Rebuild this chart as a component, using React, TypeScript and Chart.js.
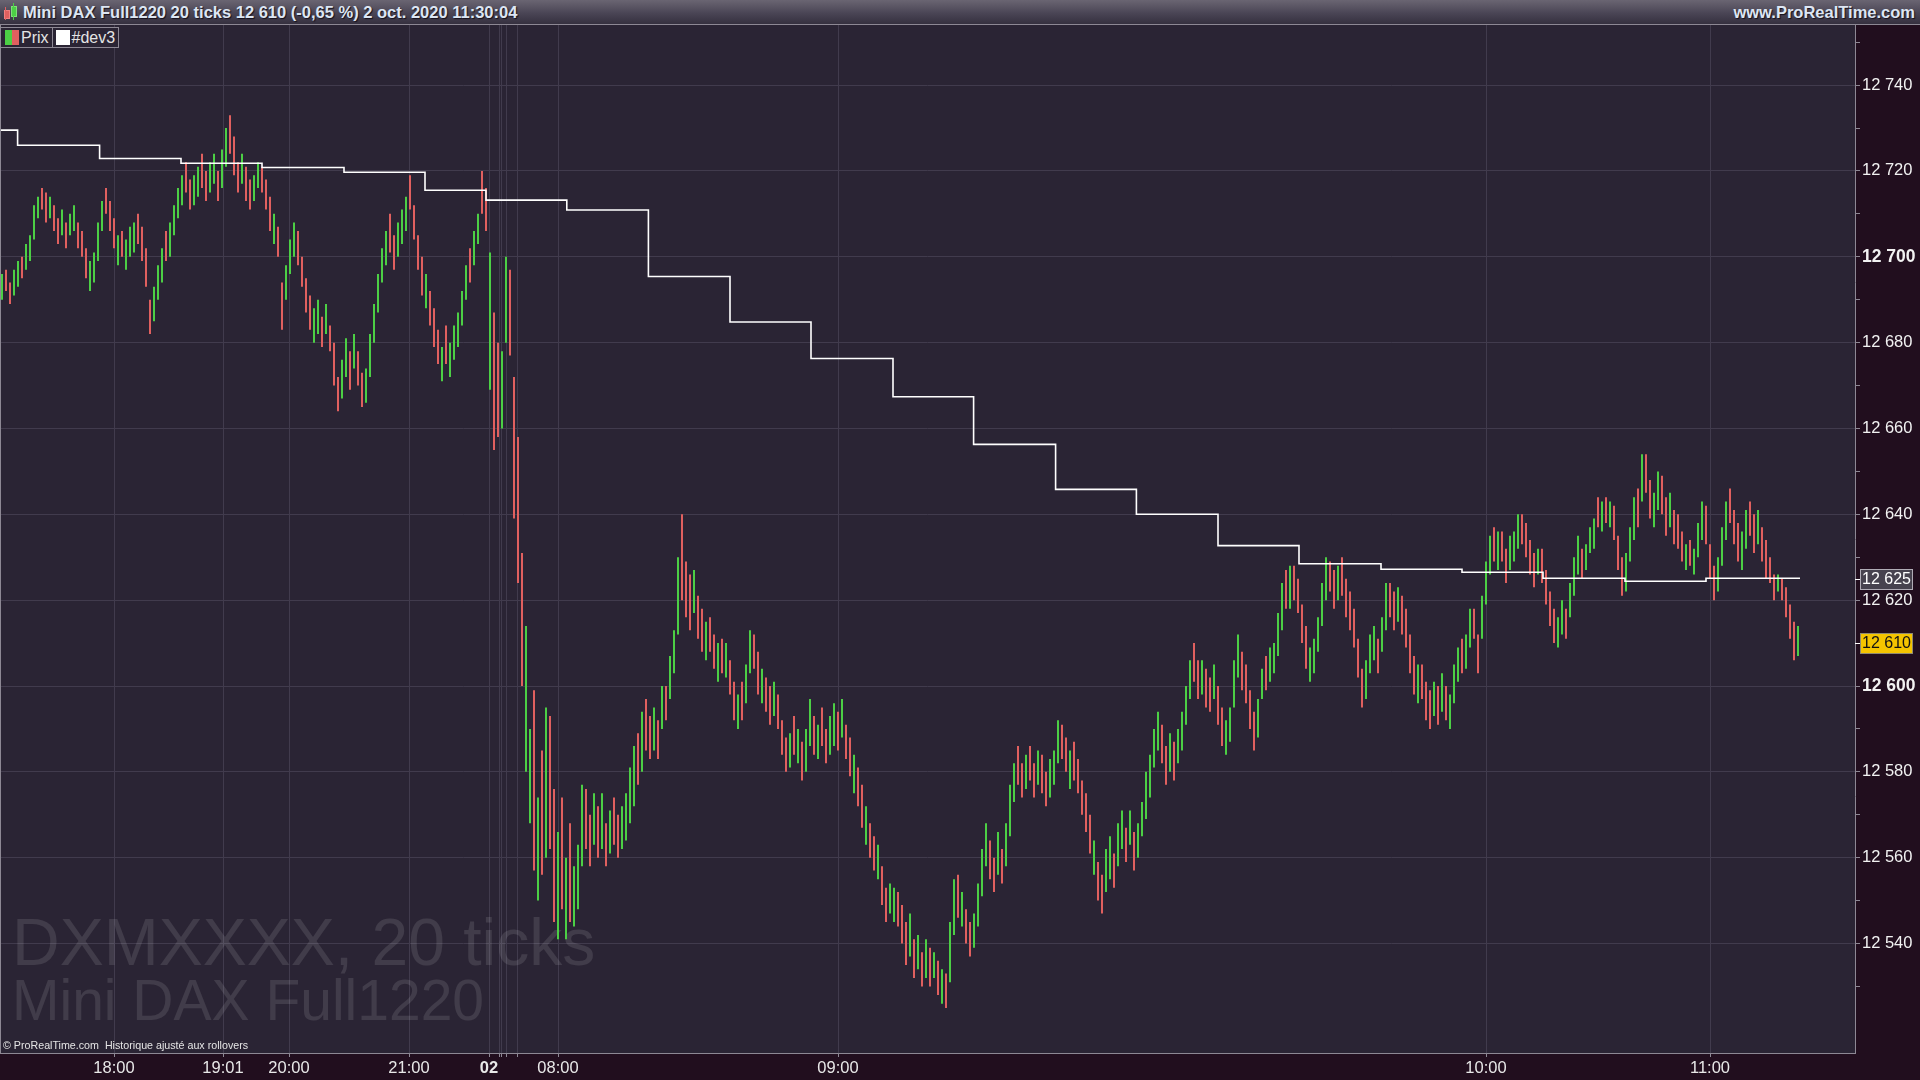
import React, { useEffect, useRef } from 'react';
import { Chart, registerables } from 'chart.js';

Chart.register(...registerables);

// ---------------- data ----------------
const lows: number[] = [
  12690,12692,12689,12691,12693,12695,12697,12699,12704,12709,
  12711,12708,12709,12706,12703,12705,12702,12705,12706,12702,
  12700,12695,12692,12694,12699,12706,12710,12706,12702,12698,
  12700,12697,12700,12701,12703,12699,12693,12682,12685,12690,
  12694,12699,12700,12705,12709,12712,12715,12711,12712,12714,
  12716,12713,12715,12717,12713,12716,12721,12724,12719,12715,
  12717,12713,12711,12713,12716,12715,12711,12706,12703,12700,
  12683,12690,12696,12700,12698,12693,12687,12683,12680,12682,
  12679,12682,12678,12670,12664,12667,12672,12669,12674,12670,
  12665,12666,12672,12680,12687,12694,12698,12701,12697,12700,
  12703,12706,12711,12704,12697,12691,12688,12684,12679,12675,
  12671,12675,12672,12676,12679,12684,12690,12694,12698,12703,
  12710,12706,12669,12655,12658,12660,12680,12677,12639,12624,
  12600,12580,12568,12557,12550,12556,12560,12562,12545,12541,
  12548,12541,12545,12544,12548,12558,12562,12558,12563,12560,
  12562,12558,12561,12563,12560,12562,12564,12568,12572,12577,
  12580,12585,12583,12585,12583,12590,12592,12597,12603,12612,
  12620,12616,12613,12617,12611,12608,12606,12608,12604,12601,
  12603,12602,12598,12592,12590,12592,12596,12603,12604,12598,
  12596,12594,12591,12593,12590,12584,12580,12581,12584,12582,
  12578,12580,12586,12584,12583,12586,12582,12584,12586,12585,
  12588,12583,12579,12575,12572,12567,12563,12560,12557,12555,
  12549,12545,12547,12545,12544,12540,12535,12537,12532,12534,
  12530,12532,12530,12532,12528,12526,12525,12531,12542,12546,
  12544,12540,12537,12539,12544,12551,12558,12555,12552,12556,
  12554,12558,12565,12573,12577,12574,12576,12578,12574,12577,
  12575,12572,12574,12577,12582,12583,12580,12576,12578,12575,
  12570,12566,12561,12556,12550,12547,12552,12555,12553,12558,
  12562,12559,12563,12557,12560,12565,12569,12574,12581,12585,
  12582,12577,12580,12578,12582,12585,12591,12597,12601,12597,
  12598,12595,12594,12597,12591,12586,12584,12587,12595,12602,
  12599,12596,12590,12585,12588,12597,12599,12601,12603,12607,
  12613,12618,12618,12620,12617,12610,12604,12601,12603,12608,
  12614,12620,12622,12618,12620,12621,12616,12613,12609,12602,
  12595,12597,12603,12606,12603,12608,12613,12616,12613,12615,
  12612,12609,12603,12598,12596,12597,12592,12590,12593,12591,
  12594,12592,12590,12596,12601,12603,12604,12609,12611,12603,
  12611,12619,12626,12629,12627,12629,12624,12627,12629,12632,
  12633,12630,12626,12623,12626,12624,12619,12614,12610,12609,
  12612,12611,12616,12621,12626,12625,12627,12631,12632,12637,
  12636,12638,12637,12634,12627,12621,12622,12629,12634,12637,
  12643,12645,12639,12637,12641,12640,12635,12637,12633,12632,
  12629,12627,12628,12626,12630,12634,12633,12625,12620,12622,
  12628,12634,12638,12633,12629,12627,12632,12635,12631,12633,
  12629,12625,12624,12620,12622,12620,12616,12611,12606,12607,
];

const highs: number[] = [
  12696,12697,12694,12697,12699,12700,12703,12705,12712,12714,
  12716,12715,12714,12712,12709,12711,12708,12710,12712,12708,
  12706,12702,12699,12701,12708,12713,12716,12713,12709,12705,
  12706,12704,12707,12708,12710,12707,12702,12690,12693,12698,
  12702,12706,12708,12712,12716,12719,12722,12718,12719,12721,
  12724,12720,12722,12724,12720,12725,12730,12733,12728,12722,
  12724,12721,12718,12719,12722,12721,12718,12714,12710,12707,
  12694,12698,12704,12708,12706,12700,12695,12691,12688,12690,
  12686,12689,12684,12680,12672,12676,12681,12678,12682,12678,
  12673,12674,12682,12689,12696,12702,12706,12710,12705,12708,
  12711,12714,12719,12712,12705,12700,12696,12692,12688,12683,
  12679,12684,12680,12684,12687,12692,12698,12702,12706,12710,
  12720,12716,12701,12687,12680,12678,12700,12697,12672,12658,
  12631,12614,12590,12599,12574,12585,12595,12593,12576,12566,
  12574,12560,12568,12558,12563,12577,12576,12570,12575,12572,
  12575,12568,12571,12574,12570,12572,12575,12581,12586,12589,
  12594,12597,12593,12595,12592,12600,12600,12607,12613,12630,
  12640,12629,12626,12627,12621,12618,12615,12616,12612,12610,
  12611,12610,12606,12601,12598,12601,12605,12613,12612,12608,
  12604,12602,12600,12601,12598,12592,12588,12589,12593,12590,
  12587,12590,12597,12593,12591,12595,12590,12593,12596,12594,
  12597,12591,12588,12584,12581,12577,12572,12568,12565,12563,
  12558,12553,12554,12553,12552,12549,12545,12547,12541,12542,
  12538,12541,12539,12538,12536,12534,12533,12545,12555,12556,
  12552,12548,12545,12547,12554,12562,12568,12564,12560,12566,
  12562,12568,12577,12582,12586,12582,12584,12586,12582,12585,
  12584,12580,12583,12585,12592,12591,12588,12585,12587,12583,
  12578,12575,12570,12564,12559,12556,12562,12565,12561,12568,
  12571,12567,12571,12566,12568,12573,12580,12584,12590,12594,
  12591,12586,12589,12587,12590,12594,12600,12606,12610,12606,
  12606,12604,12602,12605,12600,12595,12592,12595,12606,12612,
  12608,12605,12599,12594,12597,12604,12607,12609,12610,12617,
  12624,12627,12628,12628,12625,12619,12614,12609,12611,12616,
  12624,12630,12629,12627,12628,12630,12625,12622,12618,12611,
  12604,12606,12612,12614,12611,12616,12624,12624,12622,12623,
  12621,12618,12612,12607,12605,12605,12601,12599,12601,12600,
  12603,12600,12598,12605,12609,12611,12612,12618,12618,12612,
  12621,12629,12635,12637,12636,12636,12632,12635,12636,12640,
  12640,12638,12634,12631,12632,12632,12627,12622,12618,12616,
  12620,12618,12624,12630,12635,12632,12633,12637,12639,12644,
  12643,12644,12643,12642,12635,12630,12631,12637,12644,12646,
  12654,12654,12648,12645,12650,12649,12644,12645,12641,12640,
  12636,12633,12634,12632,12638,12643,12642,12633,12628,12630,
  12637,12643,12646,12641,12638,12636,12641,12643,12640,12641,
  12637,12634,12630,12626,12626,12625,12623,12619,12615,12614,
];

// 'g' = bar closed up, 'r' = bar closed down
const barDirection: string[] = [
  'grrggrgggg','rrgrrgrggr','rrggggrrrg','rgggrrrrgg','grggggrrgg',
  'rrggrggrrr','grrggrrrgr','rgggrrrrgg','rgrrrggrgr','rggggggrrg',
  'ggrrrrgrrr','grgggggrgg','rrgrrggrrr','rggrgrgrrg','rgrgggrrgr',
  'grgrrggggr','grrgrgrggg','rrrgrrgrrg','rgrrgrggrr','grrgrrrgrg',
  'rggrgrrggr','grrgrrgrrg','rrggrrrgrg','rgrgrgrggr','grrggggrrg',
  'rgggrrgrrg','rrgggrrgrr','rrrgrrggrg','grgrgggggg','rrgrggggrr',
  'grrgrrgggg','rrrrggrggg','grgrrrrggg','ggrrgrrrrr','rgggrggrrg',
  'rrrrgrrrgr','grgggrggrr','gggrgrrggg','rrrrgrrrrg','grgggrgggr',
  'grgrrrgggr','grrggrrgrr','rgrgggrrrg','ggrrrggrrg','rrrrgrrrrg',
];

// #dev3 step line: bar index where each level begins, and the level
const dev3Starts: number[] = [-0.5, 3.9, 24.4, 44.75, 65, 85.5, 105.75, 121, 141.2, 161.6, 182, 202.25, 222.75, 242.9, 263.4, 283.6, 304, 324.25, 344.75, 365, 385.25, 405.75, 426];
const dev3Levels: number[] = [12729.5, 12726, 12722.9, 12721.8, 12720.8, 12719.7, 12715.5, 12713.2, 12710.9, 12695.4, 12684.8, 12676.3, 12667.4, 12656.3, 12645.8, 12640, 12632.7, 12628.5, 12627.2, 12626.5, 12625.1, 12624.4, 12625.1];
const dev3EndIndex = 449.5;

const xTickPositions: number[] = [28, 55.25, 71.75, 101.75, 121.75, 124.25, 124.75, 126.25, 128.75, 139, 209, 371, 427];
const xTickLabels: string[] = ['18:00', '19:01', '20:00', '21:00', '02', '', '', '', '', '08:00', '09:00', '10:00', '11:00'];
const yTickValues: number[] = [12530, 12540, 12550, 12560, 12570, 12580, 12590, 12600, 12610, 12620, 12630, 12640, 12650, 12660, 12670, 12680, 12690, 12700, 12710, 12720, 12730, 12740, 12750];
const yBoldValues: number[] = [12600, 12700];

const lastPrice = 12610;
const dev3Last = 12625;
const titleText = 'Mini DAX Full1220 20 ticks 12 610 (-0,65 %) 2 oct. 2020 11:30:04';
const siteText = 'www.ProRealTime.com';
const watermark1 = 'DXMXXXX, 20 ticks';
const watermark2 = 'Mini DAX Full1220';
const copyrightText = '© ProRealTime.com  Historique ajusté aux rollovers';

// ---------------- style ----------------
const AXIS_BG = '#210e1e';
const PLOT_BG = '#2a2434';
const GRID = '#413b4d';
const FRAME = '#8d8894';
const GREEN = '#4ccf45';
const RED = '#e0605f';
const SANS = "'Liberation Sans', Arial, sans-serif";

const fmt = (v: number) => `${Math.floor(v / 1000)} ${String(Math.round(v) % 1000).padStart(3, '0')}`;

const decorPlugin = {
  id: 'decor',
  beforeDraw(chart: any) {
    const { ctx, chartArea: a, width, height } = chart;
    ctx.save();
    ctx.fillStyle = AXIS_BG;
    ctx.fillRect(0, 0, width, height);
    ctx.fillStyle = PLOT_BG;
    ctx.fillRect(a.left, a.top, a.right - a.left, a.bottom - a.top);
    ctx.restore();
  },
  beforeDatasetsDraw(chart: any) {
    const { ctx, chartArea: a } = chart;
    ctx.save();
    ctx.beginPath();
    ctx.rect(a.left, a.top, a.right - a.left, a.bottom - a.top);
    ctx.clip();
    ctx.fillStyle = 'rgba(255,255,255,0.11)';
    ctx.textBaseline = 'alphabetic';
    ctx.textAlign = 'left';
    ctx.font = `66px ${SANS}`;
    ctx.fillText(watermark1, 12, a.bottom - 88);
    ctx.font = `57px ${SANS}`;
    ctx.fillText(watermark2, 12, a.bottom - 33);
    ctx.fillStyle = '#e4e4e4';
    ctx.font = `10.7px ${SANS}`;
    ctx.fillText(copyrightText, 3, a.bottom - 4);
    ctx.restore();
  },
  afterDraw(chart: any) {
    const { ctx, chartArea: a } = chart;
    const y = chart.scales.y;
    ctx.save();
    ctx.strokeStyle = FRAME;
    ctx.lineWidth = 1;
    ctx.beginPath();
    ctx.moveTo(0.5, a.top);
    ctx.lineTo(0.5, a.bottom);
    ctx.stroke();
    const boxes = [
      { v: dev3Last, bg: '#47434f', border: '#b0acb6', fg: '#ffffff', tick: '#ffffff' },
      { v: lastPrice, bg: '#f4c400', border: '#8f8a70', fg: '#111111', tick: '#ffffff' },
    ];
    for (const b of boxes) {
      const py = Math.round(y.getPixelForValue(b.v));
      ctx.strokeStyle = b.tick;
      ctx.beginPath();
      ctx.moveTo(a.right, py + 0.5);
      ctx.lineTo(a.right + 5, py + 0.5);
      ctx.stroke();
      const bx = a.right + 5, bw = 53, bh = 21;
      ctx.fillStyle = b.bg;
      ctx.fillRect(bx, py - 10, bw, bh);
      ctx.strokeStyle = b.border;
      ctx.strokeRect(bx + 0.5, py - 10 + 0.5, bw - 1, bh - 1);
      ctx.fillStyle = b.fg;
      ctx.font = `16px ${SANS}`;
      ctx.textAlign = 'center';
      ctx.textBaseline = 'middle';
      ctx.fillText(fmt(b.v), bx + bw / 2, py + 1);
    }
    ctx.restore();
  },
};

export default function App() {
  const canvasRef = useRef<HTMLCanvasElement>(null);

  useEffect(() => {
    const canvas = canvasRef.current;
    if (!canvas) return;
    const dirs = barDirection.join('');
    const barData = lows.map((lo, i) => ({ x: i, y: [lo, highs[i]] }));
    const barColors = lows.map((_, i) => (dirs[i] === 'g' ? GREEN : RED));
    const dev3Data = dev3Starts.map((s, i) => ({ x: s, y: dev3Levels[i] }));
    dev3Data.push({ x: dev3EndIndex, y: dev3Levels[dev3Levels.length - 1] });

    const chart = new Chart(canvas, {
      type: 'bar',
      data: {
        datasets: [
          {
            type: 'line',
            data: dev3Data as any,
            borderColor: '#ffffff',
            borderWidth: 1.6,
            pointRadius: 0,
            stepped: true,
            tension: 0,
            order: 0,
          } as any,
          {
            type: 'bar',
            data: barData as any,
            backgroundColor: barColors,
            borderWidth: 0,
            barThickness: 2,
            inflateAmount: 0,
            grouped: false,
            order: 1,
          } as any,
        ],
      },
      options: {
        responsive: false,
        devicePixelRatio: 1,
        animation: false,
        events: [],
        layout: { padding: 0 },
        plugins: { legend: { display: false }, tooltip: { enabled: false } },
        scales: {
          x: {
            type: 'linear',
            position: 'bottom',
            min: -0.5,
            max: 463.25,
            bounds: 'data',
            offset: false,
            afterBuildTicks: (s: any) => {
              s.ticks = xTickPositions.map((v) => ({ value: v }));
            },
            afterFit: (s: any) => {
              s.height = 27;
              s.paddingLeft = 0;
              s.paddingRight = 0;
            },
            grid: { color: GRID, lineWidth: 1, drawTicks: true, tickLength: 4, tickColor: FRAME, offset: false },
            border: { display: true, color: FRAME, width: 1 },
            ticks: {
              autoSkip: false,
              maxRotation: 0,
              minRotation: 0,
              padding: 2,
              color: '#e8e8e8',
              font: (c: any) => ({ family: SANS, size: 16.5, weight: xTickLabels[c.index] === '02' ? 'bold' : 'normal' }),
              callback: (_v: any, i: number) => xTickLabels[i],
            },
          },
          y: {
            type: 'linear',
            position: 'right',
            min: 12514.5,
            max: 12754,
            bounds: 'data',
            offset: false,
            afterBuildTicks: (s: any) => {
              s.ticks = yTickValues.map((v) => ({ value: v }));
            },
            afterFit: (s: any) => {
              s.width = 65;
              s.paddingTop = 0;
              s.paddingBottom = 0;
            },
            grid: {
              color: (c: any) => (c.tick && c.tick.value % 20 === 0 ? GRID : 'rgba(0,0,0,0)'),
              lineWidth: 1,
              drawTicks: true,
              tickLength: 5,
              tickColor: FRAME,
            },
            border: { display: true, color: FRAME, width: 1 },
            ticks: {
              padding: 2,
              color: '#f2f2f2',
              font: (c: any) => ({
                family: SANS,
                size: c.tick && yBoldValues.includes(c.tick.value) ? 17.5 : 16.5,
                weight: c.tick && yBoldValues.includes(c.tick.value) ? 'bold' : 'normal',
              }),
              callback: (v: any) => (Number(v) % 20 === 0 ? fmt(Number(v)) : ''),
            },
          },
        },
      } as any,
      plugins: [decorPlugin],
    });
    return () => chart.destroy();
  }, []);

  return (
    <div
      style={{
        position: 'fixed',
        left: 0,
        top: 0,
        width: 1920,
        height: 1080,
        background: AXIS_BG,
        overflow: 'hidden',
      }}
    >
      <div
        style={{
          position: 'absolute',
          left: 0,
          top: 0,
          width: 1920,
          height: 25,
          boxSizing: 'border-box',
          background: 'linear-gradient(#6a6572, #4a4555 55%, #35303f)',
          borderBottom: `1px solid ${FRAME}`,
        }}
      >
        <div style={{ position: 'absolute', left: 4, top: 10, width: 4, height: 7, background: '#e0605f', border: '1px solid #f08080' }} />
        <div style={{ position: 'absolute', left: 5, top: 7, width: 1, height: 13, background: '#e0605f' }} />
        <div style={{ position: 'absolute', left: 11, top: 6, width: 4, height: 9, background: '#4ccf45', border: '1px solid #7fe07a' }} />
        <div style={{ position: 'absolute', left: 13, top: 3, width: 1, height: 17, background: '#4ccf45' }} />
        <span
          style={{
            position: 'absolute',
            left: 23,
            top: 3,
            font: `bold 16.5px ${SANS}`,
            color: '#dde6f3',
            whiteSpace: 'nowrap',
            textShadow: '1px 1px 1px #15101c',
          }}
        >
          {titleText}
        </span>
        <span
          style={{
            position: 'absolute',
            right: 5,
            top: 3,
            font: `bold 16.5px ${SANS}`,
            color: '#dde6f3',
            whiteSpace: 'nowrap',
            textShadow: '1px 1px 1px #15101c',
          }}
        >
          {siteText}
        </span>
      </div>
      <canvas
        ref={canvasRef}
        width={1920}
        height={1055}
        style={{ position: 'absolute', left: 0, top: 25, width: 1920, height: 1055 }}
      />
      <div style={{ position: 'absolute', left: 0, top: 27, display: 'flex', height: 21, font: `16px ${SANS}`, color: '#e4e4e4' }}>
        <div style={{ display: 'flex', alignItems: 'center', height: 21, boxSizing: 'border-box', border: `1px solid ${FRAME}`, padding: '0 3px 0 4px', background: PLOT_BG }}>
          <span style={{ display: 'inline-block', width: 7, height: 15, background: '#4ccf45' }} />
          <span style={{ display: 'inline-block', width: 7, height: 15, background: '#e0605f', marginRight: 2 }} />
          <span>Prix</span>
        </div>
        <div style={{ display: 'flex', alignItems: 'center', height: 21, boxSizing: 'border-box', border: `1px solid ${FRAME}`, borderLeft: 'none', padding: '0 3px 0 3px', background: PLOT_BG }}>
          <span style={{ display: 'inline-block', width: 14, height: 15, background: '#ffffff', marginRight: 2 }} />
          <span>#dev3</span>
        </div>
      </div>
    </div>
  );
}
